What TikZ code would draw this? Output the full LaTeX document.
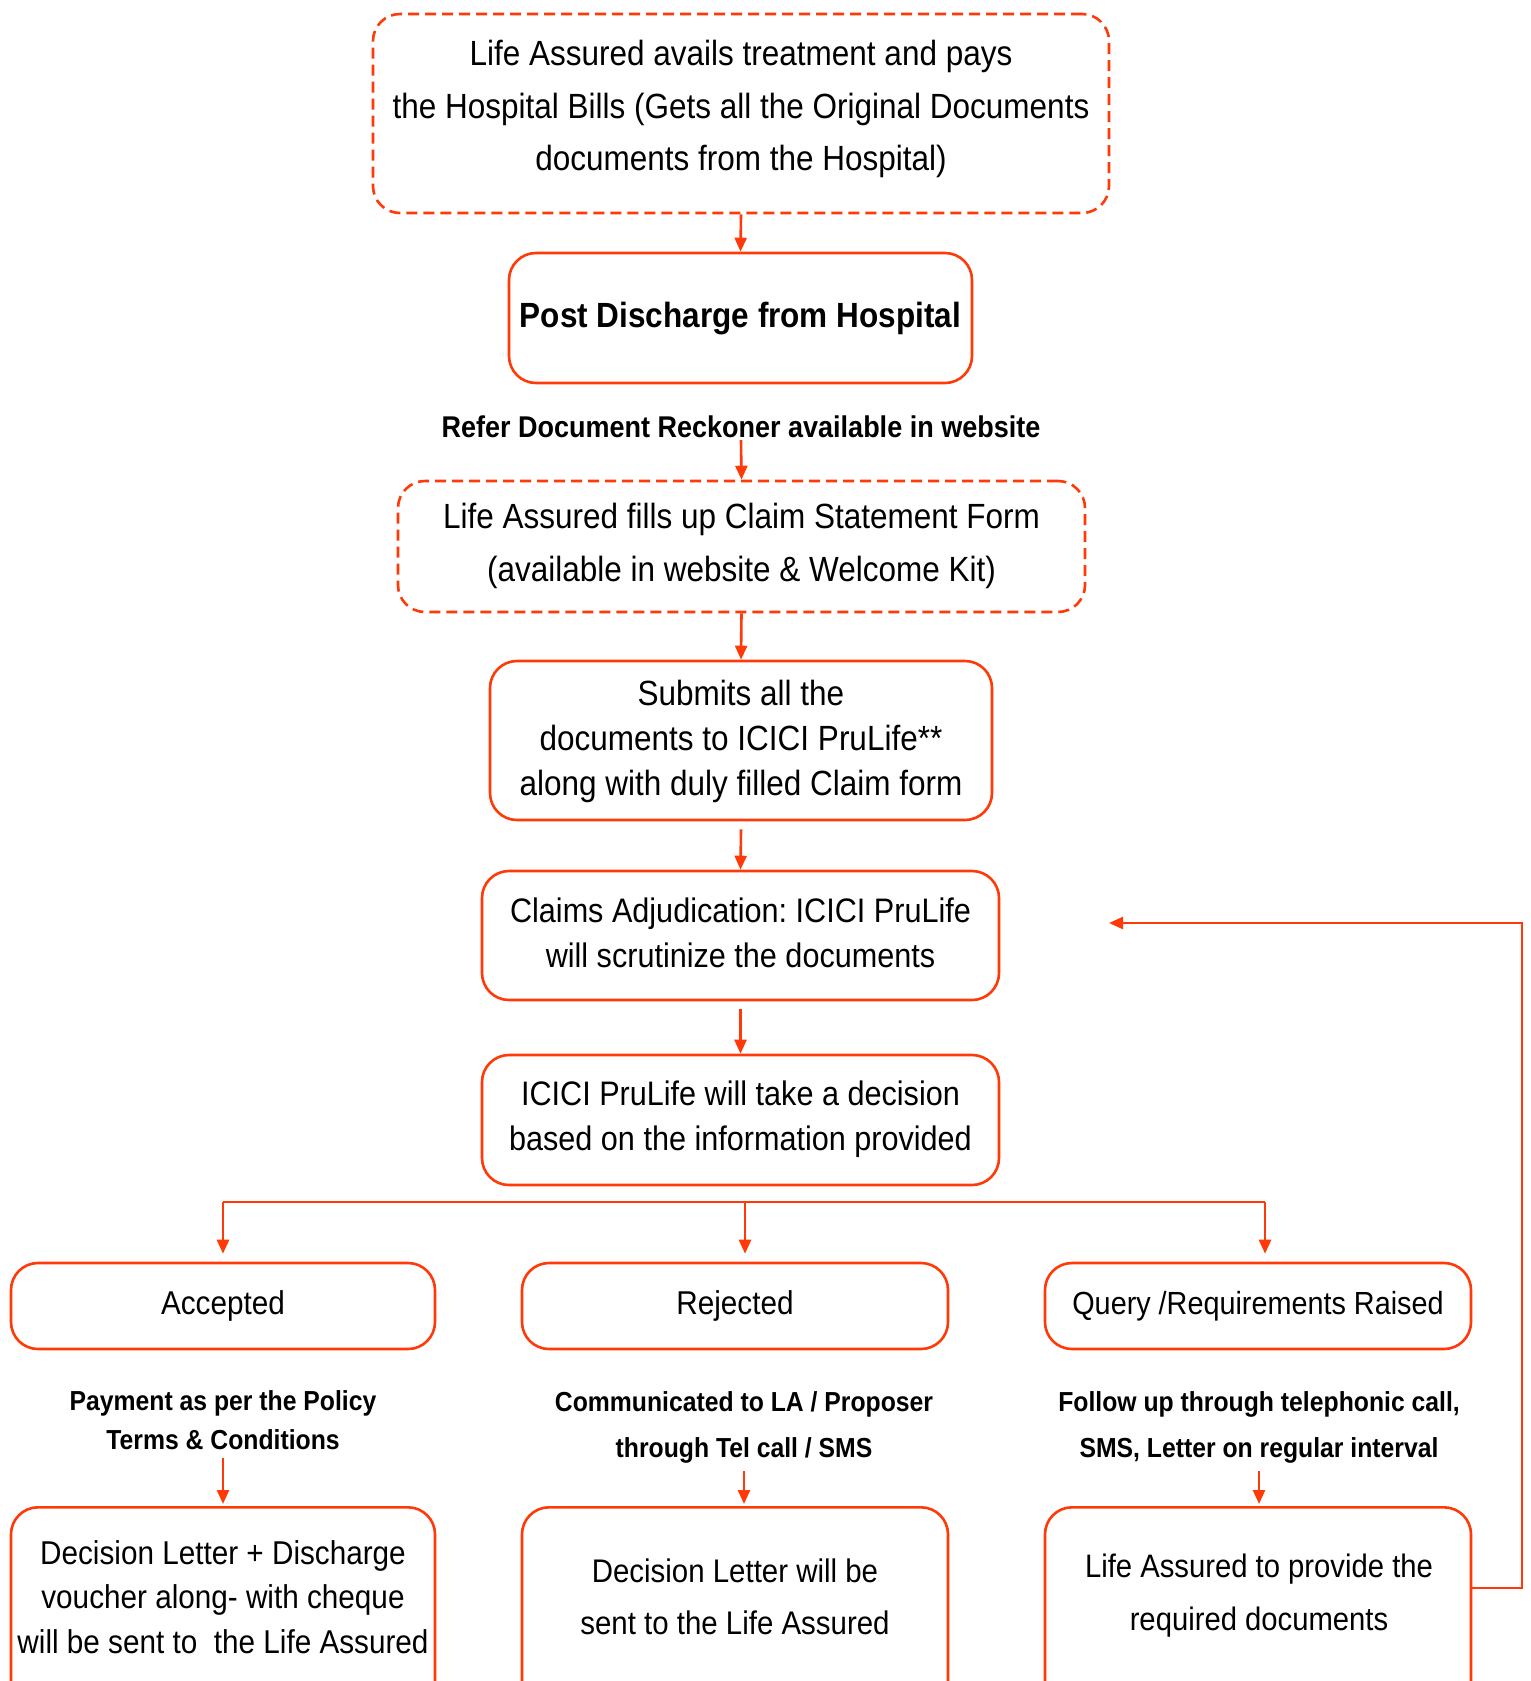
\documentclass[tikz,border=0pt]{standalone}
\usepackage{fontspec}
\setmainfont{Liberation Sans}[FakeStretch=0.9]
\usetikzlibrary{arrows.meta}
\definecolor{oc}{RGB}{255,58,8}
\begin{document}
\frenchspacing
\begin{tikzpicture}[x=1pt,y=-1pt,
  box/.style={draw=oc, line width=2.6pt, rounded corners=27pt, align=center, inner sep=0pt},
  dbox/.style={box, dash pattern=on 11pt off 6pt},
  txt/.style={font=\fontsize{33}{45}\selectfont, align=center, inner sep=0pt},
  lbl/.style={font=\fontsize{27.5}{39}\selectfont\bfseries, align=center, inner sep=0pt},
  arr/.style={draw=oc, line width=2.6pt, -{Triangle[width=12pt,length=14pt]}},
  ln/.style={draw=oc, line width=2.8pt}
]
\useasboundingbox (0,0) rectangle (1531,1681);
\clip (0,0) rectangle (1531,1681);

% top
\node[dbox, minimum width=736pt, minimum height=199pt] (top) at (741,113.5) {};
\node[txt, font=\fontsize{35}{52.5}\selectfont] (topt) at (741,109) {Life Assured avails treatment and pays\\the Hospital Bills (Gets all the Original Documents\\documents from the Hospital)};

\node[box, minimum width=463pt, minimum height=130pt] (post) at (740.5,318) {};
\node[txt, font=\fontsize{35}{45}\selectfont\bfseries] (postt) at (740.5,319) {Post Discharge from Hospital};

\node[lbl, font=\fontsize{30}{39}\selectfont\bfseries] (refer) at (741,427) {Refer Document Reckoner available in website};

\node[dbox, minimum width=687pt, minimum height=131pt] (form) at (741.5,546.5) {};
\node[txt, font=\fontsize{35}{53}\selectfont] (formt) at (741.5,545.5) {Life Assured fills up Claim Statement Form\\(available in website \& Welcome Kit)};

\node[box, minimum width=502pt, minimum height=159pt] (sub) at (741,740.5) {};
\node[txt, font=\fontsize{35}{45}\selectfont] (subt) at (741,741) {Submits all the\\documents to ICICI PruLife**\\along with duly filled Claim form};

\node[box, minimum width=517pt, minimum height=129pt] (adj) at (740.5,935.5) {};
\node[txt, font=\fontsize{34}{45}\selectfont] (adjt) at (740.5,933) {Claims Adjudication: ICICI PruLife\\will scrutinize the documents};

\node[box, minimum width=517pt, minimum height=130pt] (dec) at (740.5,1120) {};
\node[txt, font=\fontsize{34}{45}\selectfont] (dect) at (740.5,1119.5) {ICICI PruLife will take a decision\\based on the information provided};

% row of outcomes
\node[box, minimum width=424pt, minimum height=86pt] (acc) at (223,1306) {};
\node[txt] (acct) at (223,1306) {Accepted};
\node[box, minimum width=426pt, minimum height=86pt] (rej) at (735,1306) {};
\node[txt] (rejt) at (735,1306) {Rejected};
\node[box, minimum width=426pt, minimum height=86pt] (qry) at (1258,1306) {};
\node[txt, font=\fontsize{32}{45}\selectfont] (qryt) at (1258,1306) {Query /Requirements Raised};

% labels
\node[lbl, font=\fontsize{27.5}{39}\selectfont\bfseries] (accl) at (223,1420) {Payment as per the Policy\\Terms \& Conditions};
\node[lbl, font=\fontsize{27.5}{46}\selectfont\bfseries] (rejl) at (744,1427) {Communicated to LA / Proposer\\through Tel call / SMS};
\node[lbl, font=\fontsize{27.5}{46}\selectfont\bfseries] (qryl) at (1259,1427) {Follow up through telephonic call,\\SMS, Letter on regular interval};

% bottom boxes (cut off)
\node[box, minimum width=424pt, minimum height=240pt, anchor=north] (accb) at (223,1506) {};
\node[txt, font=\fontsize{33}{44.5}\selectfont] (accbt) at (223,1597) {Decision Letter + Discharge\\voucher along- with cheque\\will be sent to \ the Life Assured};
\node[box, minimum width=426pt, minimum height=240pt, anchor=north] (rejb) at (735,1506) {};
\node[txt, font=\fontsize{32.7}{52}\selectfont] (rejbt) at (735,1597) {Decision Letter will be\\sent to the Life Assured};
\node[box, minimum width=426pt, minimum height=240pt, anchor=north] (qryb) at (1258,1506) {};
\node[txt, font=\fontsize{32.5}{53}\selectfont] (qrybt) at (1259,1595.5) {Life Assured to provide the\\required documents};

% connectors
\draw[arr] (top.south) -- (post.north);
\draw[arr] ([yshift=-2pt]refer.south) -- (form.north);
\draw[arr] (form.south) -- (sub.north);
\draw[arr] ([yshift=-8pt]sub.south) -- (adj.north);
\draw[arr] ([yshift=-8pt]adj.south) -- (dec.north);

\coordinate (bl) at (223,1202);
\coordinate (bm) at (745,1202);
\coordinate (br) at (1265,1202);
\draw[ln] (bl) -- (br);
\draw[arr] (bl) -- ([yshift=8pt]bl |- acc.north);
\draw[arr] (bm) -- ([yshift=8pt]bm |- rej.north);
\draw[arr] (br) -- ([yshift=8pt]br |- qry.north);

\draw[arr] ([yshift=-8pt]accl.south) -- ([yshift=2pt]accl.south |- accb.north);
\draw[arr] ([yshift=-8pt]rejl.south) -- ([yshift=2pt]rejl.south |- rejb.north);
\draw[arr] ([yshift=-8pt]qryl.south) -- ([yshift=2pt]qryl.south |- qryb.north);

\coordinate (fbend) at (1109,923);
\draw[arr] ([yshift=-82pt]qryb.north east) -| (1522,923) -- (fbend);
\end{tikzpicture}
\end{document}
